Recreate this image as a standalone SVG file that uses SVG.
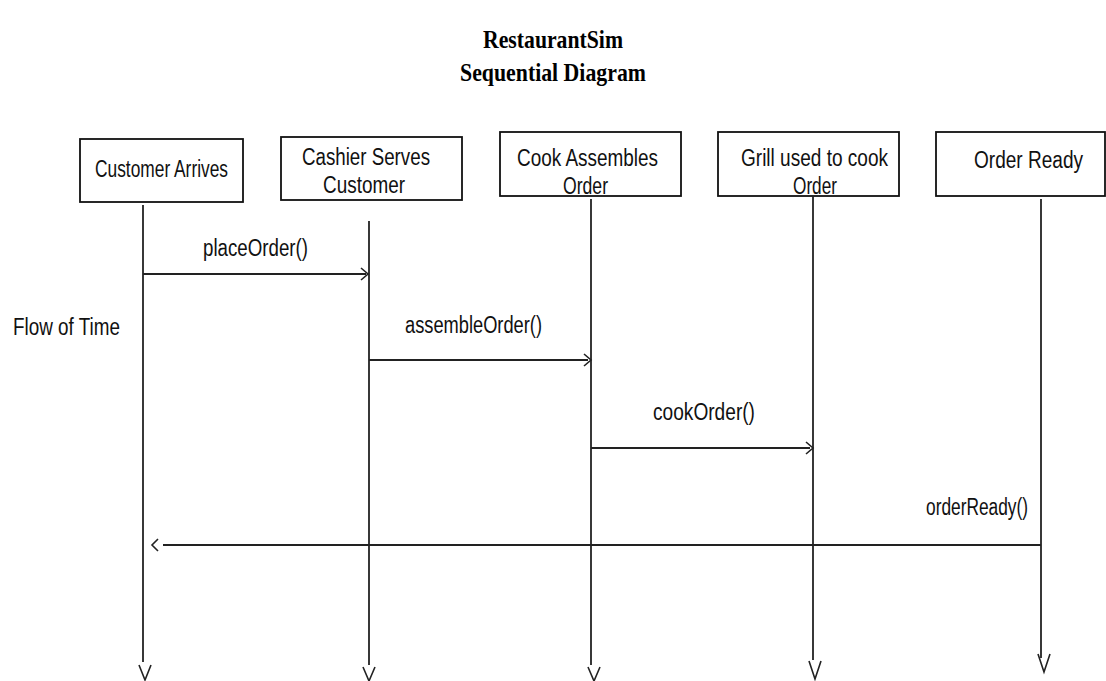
<svg xmlns="http://www.w3.org/2000/svg" width="1106" height="681" viewBox="0 0 1106 681">
<style>
.box{fill:#fff;stroke:#111;stroke-width:1.8}
.t{font-family:"Liberation Sans",Arial,sans-serif;font-size:23px;fill:#111}
.title{font-family:"Liberation Serif","Times New Roman",serif;font-size:25px;font-weight:bold;fill:#000;text-anchor:middle}
.ln{stroke:#222;stroke-width:1.8;fill:none}
.hd{stroke:#222;stroke-width:1.6;fill:none}
</style>
<rect width="1106" height="681" fill="#fff"/>
<g id="title">
<text class="title" x="553" y="48" textLength="140" lengthAdjust="spacingAndGlyphs">RestaurantSim</text>
<text class="title" x="553" y="81" textLength="186" lengthAdjust="spacingAndGlyphs">Sequential Diagram</text>
</g>
<g id="flow-label">
<text class="t" x="13" y="335" textLength="107" lengthAdjust="spacingAndGlyphs">Flow of Time</text>
</g>
<g id="customer">
<rect class="box" x="80" y="139" width="163" height="63"/>
<text class="t" x="95" y="177" textLength="133" lengthAdjust="spacingAndGlyphs">Customer Arrives</text>
</g>
<g id="cashier">
<rect class="box" x="281" y="137" width="181" height="63"/>
<text class="t" x="302" y="165" textLength="128" lengthAdjust="spacingAndGlyphs">Cashier Serves</text>
<text class="t" x="323" y="193" textLength="82" lengthAdjust="spacingAndGlyphs">Customer</text>
</g>
<g id="cook">
<rect class="box" x="500" y="132" width="181" height="64"/>
<text class="t" x="517" y="166" textLength="141" lengthAdjust="spacingAndGlyphs">Cook Assembles</text>
<text class="t" x="563" y="194" textLength="45" lengthAdjust="spacingAndGlyphs">Order</text>
</g>
<g id="grill">
<rect class="box" x="718" y="132" width="181" height="64"/>
<text class="t" x="741" y="166" textLength="147" lengthAdjust="spacingAndGlyphs">Grill used to cook</text>
<text class="t" x="793" y="194" textLength="44" lengthAdjust="spacingAndGlyphs">Order</text>
</g>
<g id="ready">
<rect class="box" x="936" y="132" width="169" height="64"/>
<text class="t" x="974" y="168" textLength="109" lengthAdjust="spacingAndGlyphs">Order Ready</text>
</g>
<g id="connectors">
<line class="ln" x1="143" y1="205" x2="143" y2="662"/>
<polyline class="hd" points="139,665 145,680 151,665"/>
<line class="ln" x1="369" y1="221" x2="369" y2="665"/>
<polyline class="hd" points="363,667 369,681 375,667"/>
<line class="ln" x1="591" y1="199" x2="591" y2="665"/>
<polyline class="hd" points="588,667 594,681 600,667"/>
<line class="ln" x1="813" y1="196" x2="813" y2="660"/>
<polyline class="hd" points="809,661 815,679 821,661"/>
<line class="ln" x1="1041" y1="199" x2="1041" y2="658"/>
<polyline class="hd" points="1038,654 1044,672 1050,654"/>

<line class="ln" x1="143" y1="274" x2="366" y2="274"/>
<polyline class="hd" points="361,268 368,274 361,280"/>
<line class="ln" x1="369" y1="360" x2="588" y2="360"/>
<polyline class="hd" points="584,354 591,360 584,366"/>
<line class="ln" x1="591" y1="448" x2="810" y2="448"/>
<polyline class="hd" points="806,442 813,448 806,454"/>
<line class="ln" x1="1041" y1="545" x2="163" y2="545"/>
<polyline class="hd" points="158,539 152,545 158,551"/>
</g>
<g id="labels">
<text class="t" x="203" y="256" textLength="105" lengthAdjust="spacingAndGlyphs">placeOrder()</text>
<text class="t" x="405" y="333" textLength="137" lengthAdjust="spacingAndGlyphs">assembleOrder()</text>
<text class="t" x="653" y="420" textLength="102" lengthAdjust="spacingAndGlyphs">cookOrder()</text>
<text class="t" x="926" y="515" textLength="102" lengthAdjust="spacingAndGlyphs">orderReady()</text>
</g>
</svg>
